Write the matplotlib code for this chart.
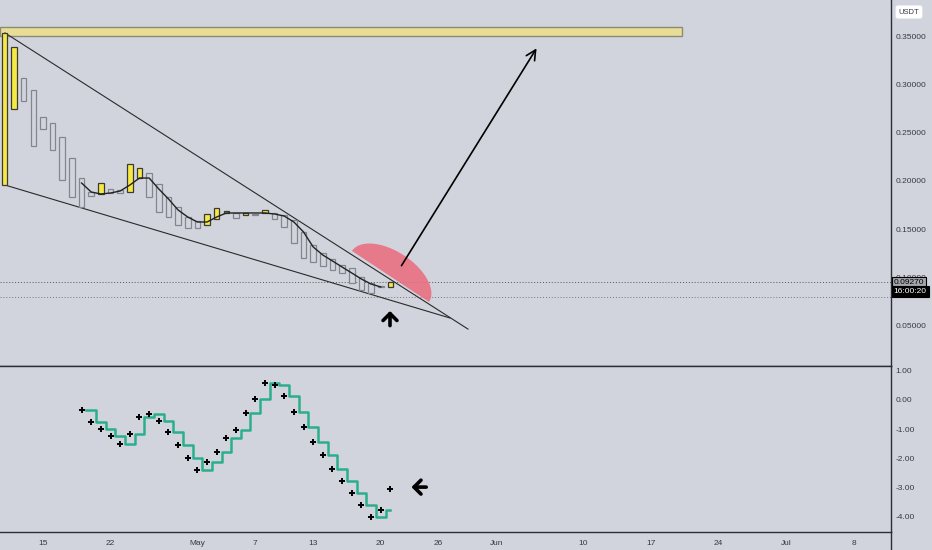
import numpy as np
import matplotlib
matplotlib.use("Agg")
import matplotlib.pyplot as plt
import matplotlib.transforms as mtransforms
from matplotlib.patches import Polygon, Rectangle

plt.rcParams['font.family'] = ['Liberation Sans', 'DejaVu Sans']

# days counted from Apr 15 (0 = Apr 15)
candle_day = list(range(-4, 37))
body_top = [0.3542, 0.3396, 0.3073, 0.2948, 0.2667, 0.2604, 0.2458, 0.2240, 0.2031, 0.1885,
            0.1979, 0.1917, 0.1906, 0.2177, 0.2135, 0.2083, 0.1969, 0.1833, 0.1729, 0.1625,
            0.1583, 0.1656, 0.1719, 0.1688, 0.1667, 0.1667, 0.1661, 0.1698, 0.1667, 0.1646,
            0.1594, 0.1469, 0.1333, 0.1250, 0.1188, 0.1125, 0.1094, 0.1000, 0.0938, 0.0906,
            0.0948]
body_bot = [0.1958, 0.2750, 0.2833, 0.2365, 0.2542, 0.2323, 0.2010, 0.1833, 0.1729, 0.1844,
            0.1865, 0.1875, 0.1875, 0.1885, 0.2031, 0.1833, 0.1677, 0.1625, 0.1542, 0.1510,
            0.1510, 0.1542, 0.1604, 0.1667, 0.1615, 0.1646, 0.1651, 0.1667, 0.1604, 0.1521,
            0.1354, 0.1198, 0.1156, 0.1115, 0.1073, 0.1042, 0.0938, 0.0865, 0.0833, 0.0896,
            0.0896]
yellow = [1, 1, 0, 0, 0, 0, 0, 0, 0, 0,
          1, 0, 0, 1, 1, 0, 0, 0, 0, 0,
          0, 1, 1, 1, 0, 1, 0, 1, 0, 0,
          0, 0, 0, 0, 0, 0, 0, 0, 0, 0,
          1]

ma_day = list(range(4, 36))
ma_val = [0.1979, 0.1885, 0.1865, 0.1875, 0.1896, 0.1958, 0.2031, 0.2031, 0.1917, 0.1813,
          0.1698, 0.1625, 0.1573, 0.1573, 0.1625, 0.1667, 0.1667, 0.1667, 0.1667, 0.1667,
          0.1656, 0.1635, 0.1573, 0.1469, 0.1313, 0.1229, 0.1167, 0.1104, 0.1042, 0.0979,
          0.0927, 0.0896]

# lower indicator
dot_day = list(range(4, 37))
dot_val = [-0.34, -0.77, -1.00, -1.24, -1.52, -1.17, -0.57, -0.48, -0.72, -1.10,
           -1.55, -1.99, -2.41, -2.15, -1.78, -1.31, -1.03, -0.44, 0.05, 0.59,
           0.52, 0.13, -0.41, -0.92, -1.44, -1.90, -2.37, -2.79, -3.22, -3.63,
           -4.02, -3.79, -3.07]
step_day = list(range(5, 37))
step_val = [-0.34, -0.77, -1.00, -1.24, -1.52, -1.17, -0.57, -0.48, -0.72, -1.10,
            -1.55, -1.99, -2.41, -2.15, -1.78, -1.31, -1.03, -0.44, 0.05, 0.59,
            0.52, 0.13, -0.41, -0.92, -1.44, -1.90, -2.37, -2.79, -3.22, -3.63,
            -4.02, -3.79]

tick_days = [0, 7, 16, 22, 28, 35, 41, 47, 56, 63, 70, 77, 84]
tick_labels = ['15', '22', 'May', '7', '13', '20', '26', 'Jun', '10', '17', '24', 'Jul', '8']
price_ticks = [0.05, 0.10, 0.15, 0.20, 0.25, 0.30, 0.35]
ind_ticks = [1, 0, -1, -2, -3, -4]

bg = '#d1d4dc'
txt = '#363a45'
fig = plt.figure(figsize=(9.32, 5.5), dpi=100, facecolor=bg)
ax = fig.add_axes([0, 0.3345, 891 / 932, 1 - 0.3345], facecolor=bg)
ax2 = fig.add_axes([0, 0.0336, 891 / 932, 0.3345 - 0.0336], facecolor=bg, sharex=ax)

xmin, xmax = -4.456, 87.88
ax.set_xlim(xmin, xmax)
ax.set_ylim(0.0073, 0.3885)
ax2.set_ylim(-4.53, 1.17)

# candles
for d, t, b, y in zip(candle_day, body_top, body_bot, yellow):
    if y:
        ax.bar(d, t - b, bottom=b, width=0.58, color='#f7e943', edgecolor='#3a3a3a', lw=0.9, zorder=3)
    else:
        ax.bar(d, t - b, bottom=b, width=0.58, color=bg, edgecolor='#83868e', lw=0.9, zorder=3)
ax.plot(ma_day, ma_val, color='#222222', lw=1.0, zorder=4)

# target zone
ax.add_patch(Rectangle((xmin, 0.351), 66.19 - xmin, 0.3601 - 0.351,
                       facecolor='#e7dd97', edgecolor='#8c8c72', lw=1, zorder=2))

# wedge lines
ax.plot([-3.94, 44.04], [0.3542, 0.0458], color='#2a2a2a', lw=0.8, zorder=2)
ax.plot([-3.94, 42.18], [0.1958, 0.0573], color='#2a2a2a', lw=0.8, zorder=2)

# price lines
ax.axhline(0.0945, color='#555555', lw=0.7, ls=(0, (1, 2)), zorder=1)
ax.axhline(0.0795, color='#777777', lw=0.7, ls=(0, (1, 2)), zorder=1)

# pink dome sitting on the upper trend line (half ellipse, size in inches)
ang = np.deg2rad(-33.5)
t = np.linspace(0, np.pi, 60)
ua, ub = 0.462, 0.25
px = -ua * np.cos(t) * np.cos(ang) - ub * np.sin(t) * np.sin(ang)
py = -ua * np.cos(t) * np.sin(ang) + ub * np.sin(t) * np.cos(ang)
tr = fig.dpi_scale_trans + mtransforms.ScaledTranslation(36.01, 0.1006, ax.transData)
ax.add_patch(Polygon(np.column_stack([px, py]), closed=True, transform=tr,
                     facecolor='#ec6a7c', alpha=0.85, edgecolor='none', zorder=5))

# target arrow
ax.annotate('', xy=(51.3, 0.3406), xytext=(37.0, 0.1094),
            arrowprops=dict(arrowstyle='->,head_width=0.35,head_length=0.7', lw=1.2, color='black'),
            zorder=6)
ax.annotate('', xy=(35.96, 0.0675), xytext=(35.96, 0.0465),
            arrowprops=dict(arrowstyle='->,head_width=0.5,head_length=0.5', lw=2.6, color='black'))

# indicator
ax2.step(np.append(np.array(step_day) - 0.5, step_day[-1]), np.append(step_val, step_val[-1]),
         where='post', color='#2bae8c', lw=1.8)
ax2.plot(dot_day, dot_val, ls='none', marker='+', ms=4, mew=1.4, color='black')
ax2.annotate('', xy=(37.9, -3.0), xytext=(40.0, -3.0),
             arrowprops=dict(arrowstyle='->,head_width=0.5,head_length=0.5', lw=2.6, color='black'))

# axes styling
for a in (ax, ax2):
    a.spines['left'].set_visible(False)
    for s in ('right', 'bottom', 'top'):
        a.spines[s].set_color('#2a2e39')
        a.spines[s].set_linewidth(1)
    a.yaxis.tick_right()
    a.tick_params(axis='y', length=0, pad=3, labelsize=6, labelcolor=txt)
ax.spines['top'].set_visible(False)

ax.set_yticks(price_ticks)
ax.set_yticklabels(['%.5f' % v for v in price_ticks])
ax.tick_params(axis='x', length=0, labelbottom=False)
ax2.set_yticks(ind_ticks)
ax2.set_yticklabels(['%.2f' % v for v in ind_ticks])
ax2.set_xticks(tick_days)
ax2.set_xticklabels(tick_labels)
ax2.tick_params(axis='x', length=0, pad=6, labelsize=6, labelcolor=txt)

# last price labels
yax = ax.get_yaxis_transform()
ax.text(1.003, 0.0945, '0.09270', transform=yax, fontsize=6, color='black', va='center', ha='left',
        bbox=dict(boxstyle='square,pad=0.25', fc='#a3a6ae', ec='black', lw=0.8), clip_on=False, zorder=10)
ax.text(1.003, 0.0850, '16:00:20', transform=yax, fontsize=6, color='white', va='center', ha='left',
        bbox=dict(boxstyle='square,pad=0.25', fc='black', ec='black', lw=0.8), clip_on=False, zorder=10)

fig.text(909 / 932, 1 - 12 / 550, 'USDT', fontsize=5.5, color=txt, ha='center', va='center',
         bbox=dict(boxstyle='round,pad=0.4,rounding_size=0.3', fc='white', ec='none'))
fig.add_artist(plt.Line2D([891 / 932, 891 / 932], [0, 0.0336], color='#2a2e39', lw=1))

fig.savefig('out.png', dpi=100, facecolor=bg)
